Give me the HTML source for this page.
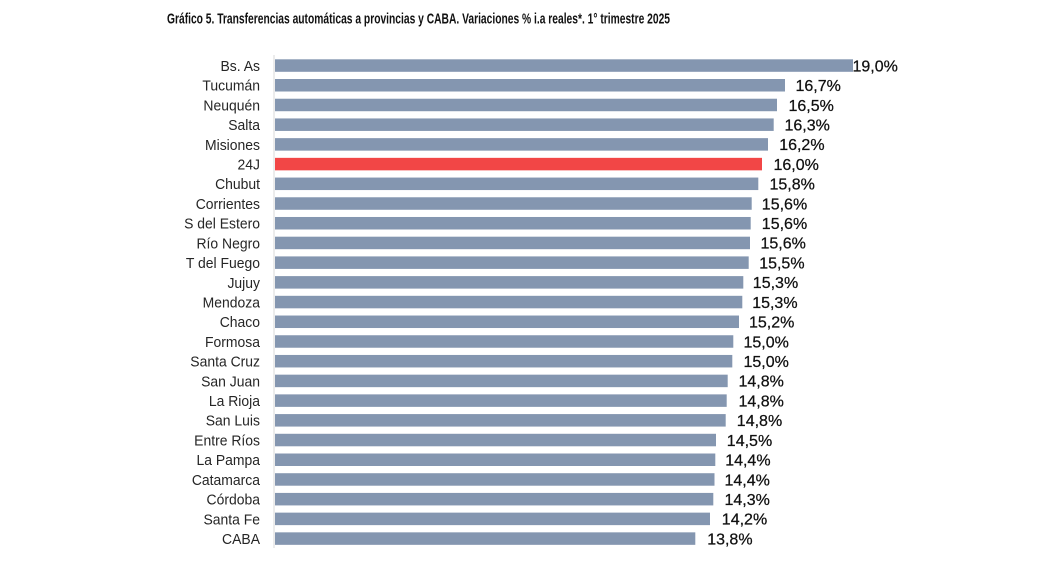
<!DOCTYPE html>
<html>
<head>
<meta charset="utf-8">
<style>
  html,body{margin:0;padding:0;background:#fff;}
  svg{display:block;}
  .lab{font-family:"Liberation Sans",Arial,sans-serif;font-size:15px;fill:#262626;}
  .val{font-family:"Liberation Sans",Arial,sans-serif;font-size:16px;fill:#111;stroke:#111;stroke-width:0.25px;}
  .ttl{font-family:"Liberation Sans",Arial,sans-serif;font-size:15px;font-weight:bold;fill:#111;}
</style>
</head>
<body>
<svg width="1051" height="575" viewBox="0 0 1051 575" xmlns="http://www.w3.org/2000/svg">
  <rect width="1051" height="575" fill="#fff"/>
  <text class="ttl" x="167" y="23.5" textLength="503" lengthAdjust="spacingAndGlyphs">Gráfico 5. Transferencias automáticas a provincias y CABA. Variaciones % i.a reales*. 1° trimestre 2025</text>
  <line x1="274" y1="55" x2="274" y2="548" stroke="#d9d9d9" stroke-width="1"/>
  <g id="bars"></g>
</svg>
<script>
(function(){
  var data=[
    ["Bs. As",853,854,"19,0%"],
    ["Tucumán",785,797,"16,7%"],
    ["Neuquén",777,790,"16,5%"],
    ["Salta",773.7,786,"16,3%"],
    ["Misiones",768,780.7,"16,2%"],
    ["24J",762,775,"16,0%"],
    ["Chubut",758.3,771,"15,8%"],
    ["Corrientes",751.7,763.3,"15,6%"],
    ["S del Estero",750.7,763.3,"15,6%"],
    ["Río Negro",750,762,"15,6%"],
    ["T del Fuego",748.7,760.7,"15,5%"],
    ["Jujuy",743.3,754.3,"15,3%"],
    ["Mendoza",742.3,753.7,"15,3%"],
    ["Chaco",739,750.5,"15,2%"],
    ["Formosa",733.3,745,"15,0%"],
    ["Santa Cruz",732.3,745,"15,0%"],
    ["San Juan",727.7,740,"14,8%"],
    ["La Rioja",726.7,740,"14,8%"],
    ["San Luis",725.7,738.3,"14,8%"],
    ["Entre Ríos",716,728.3,"14,5%"],
    ["La Pampa",715.3,726.7,"14,4%"],
    ["Catamarca",714.5,726,"14,4%"],
    ["Córdoba",713.3,726,"14,3%"],
    ["Santa Fe",710,723.3,"14,2%"],
    ["CABA",695.3,708.7,"13,8%"]
  ];
  var g=document.getElementById("bars");
  var html="";
  for(var i=0;i<data.length;i++){
    var d=data[i];
    var top=59.3+i*19.71;
    var c=top+6.25;
    var col=(d[0]==="24J")?"#F24646":"#8496B0";
    html+='<rect x="275" y="'+top.toFixed(2)+'" width="'+(d[1]-275).toFixed(2)+'" height="12.5" fill="'+col+'"/>';
    html+='<g transform="translate(260,'+(c+5.4).toFixed(2)+') scale(0.93,1)"><text class="lab" x="0" y="0" text-anchor="end">'+d[0]+'</text></g>';
    html+='<text class="val" x="'+(d[2]-1.5).toFixed(2)+'" y="'+(c+5.8).toFixed(2)+'">'+d[3]+'</text>';
  }
  g.innerHTML=html;
})();
</script>
</body>
</html>
